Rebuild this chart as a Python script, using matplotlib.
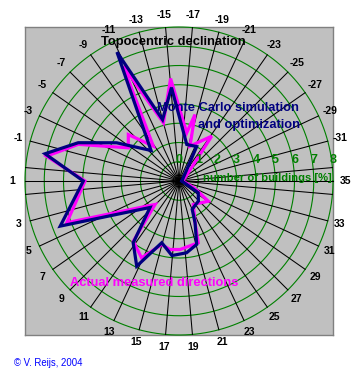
import numpy as np
import matplotlib.pyplot as plt

# declination labels around the circle and the azimuth (deg) where they sit
decl_labels = ['35', '-31', '-29', '-27', '-25', '-23', '-21', '-19', '-17', '-15',
               '-13', '-11', '-9', '-7', '-5', '-3', '-1', '1',
               '3', '5', '7', '9', '11', '13', '15', '17', '19', '21', '23',
               '25', '27', '29', '31', '33']
decl_angles = [0, 15, 25, 35, 45, 55, 65, 75, 85, 95, 105, 115, 125, 135, 145, 155,
               165, 180, 195, 205, 215, 225, 235, 245, 255, 265, 275, 285, 295,
               305, 315, 325, 335, 345]

# Monte Carlo simulation and optimization (azimuth deg, number of buildings %)
mc_angle = [0, 62.8, 78, 94.6, 105, 115.7, 132.5, 148.5, 159.2, 168.5, 180, 200.8,
            222.4, 233.5, 243.6, 254.4, 264.6, 276, 285.6, 291, 295, 314, 328.6]
mc_value = [0.15, 2.01, 1.94, 4.87, 3.3, 7.43, 2.15, 3.8, 5.6, 7.1, 4.97, 6.6,
            2.04, 4.0, 4.94, 3.33, 3.89, 3.75, 3.42, 2.33, 1.62, 1.45, 1.17]

# Actual measured directions
act_angle = [0, 53.9, 72.5, 76.5, 80.9, 94.7, 105, 115.9, 126.4, 137.5, 146.8, 160,
             169.4, 180, 200.4, 224.4, 232.8, 244, 254.8, 262.5, 270.8, 287.3,
             291, 301.3, 325.4, 335]
act_value = [0.2, 2.88, 1.9, 3.55, 2.54, 5.34, 3.13, 6.63, 2.25, 3.57, 3.15, 5.57,
             7.0, 4.88, 6.22, 1.74, 3.93, 4.44, 3.42, 3.59, 3.56, 3.36,
             2.33, 1.43, 1.85, 0.9]

r_ticks = [0, 1, 2, 3, 4, 5, 6, 7, 8]

W, H = 360, 384
fig = plt.figure(figsize=(W / 100, H / 100), dpi=100)
rect = [25 / W, 49 / H, 308 / W, 308 / H]

box = fig.add_axes(rect)
box.set_facecolor('#c0c0c0')
box.set_xticks([])
box.set_yticks([])
for s in box.spines.values():
    s.set_color('#808080')
    s.set_linewidth(1)

ax = fig.add_axes(rect, projection='polar')
ax.set_facecolor('none')
ax.set_ylim(0, 8)
ax.set_xticks([])
ax.set_yticks([])
ax.grid(False)
ax.spines['polar'].set_visible(False)

th = np.linspace(0, 2 * np.pi, 400)
for r in r_ticks[1:]:
    ax.plot(th, np.full_like(th, r), color='#008000', lw=0.8, clip_on=False)
for a in list(range(5, 360, 10)) + [0, 180]:
    ax.plot([np.radians(a)] * 2, [0, 8], color='black', lw=0.75, clip_on=False)

fnt = 'Liberation Sans'
ax.plot(np.radians(act_angle + act_angle[:1]), act_value + act_value[:1],
        color='#ff00ff', lw=2.3, solid_joinstyle='miter')
ax.plot(np.radians(mc_angle + mc_angle[:1]), mc_value + mc_value[:1],
        color='#000080', lw=2.3, solid_joinstyle='miter')

for lab, a in zip(decl_labels, decl_angles):
    ax.text(np.radians(a), 8.65, lab, ha='center', va='center', fontsize=7.5,
            fontweight='bold', family=fnt, color='black')

for r in r_ticks:
    ax.annotate(str(r), xy=(0, r), xytext=(0, 15), textcoords='offset points',
                ha='center', va='center', fontsize=9, fontweight='bold',
                family=fnt, color='#008000')

fig.text(267 / W, 1 - 178 / H, 'number of buildings [%]', ha='center', va='center',
         fontsize=8.1, fontweight='bold', family=fnt, color='#008000')
fig.text(173 / W, 1 - 41.5 / H, 'Topocentric declination', ha='center', va='center',
         fontsize=9.4, fontweight='bold', family=fnt, color='black')
fig.text(157 / W, 1 - 108 / H, 'Monte Carlo simulation', ha='left', va='center',
         fontsize=9.3, fontweight='bold', family=fnt, color='#000080')
fig.text(300 / W, 1 - 125 / H, 'and optimization', ha='right', va='center',
         fontsize=9.3, fontweight='bold', family=fnt, color='#000080')
fig.text(70 / W, 1 - 283 / H, 'Actual measured directions', ha='left', va='center',
         fontsize=9.3, fontweight='bold', family=fnt, color='#ff00ff')
fig.text(14 / W, 1 - 363 / H, '\u00a9 V. Reijs, 2004', ha='left', va='center',
         fontsize=6.9, family=fnt, color='#0000ff')

fig.savefig('out.png', dpi=100)
